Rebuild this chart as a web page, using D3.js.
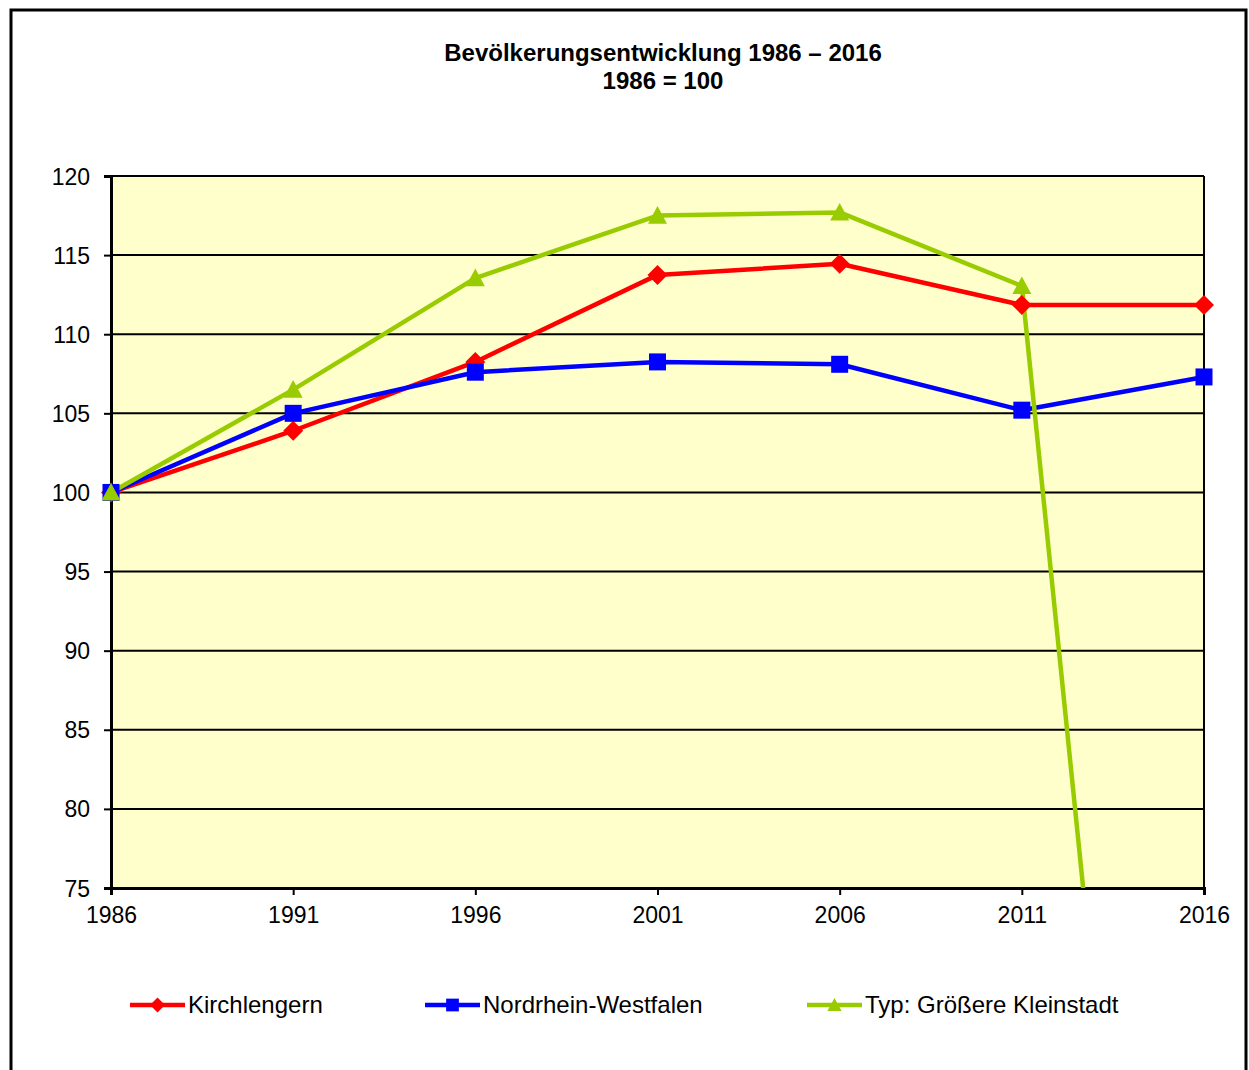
<!DOCTYPE html>
<html>
<head>
<meta charset="utf-8">
<script src="https://cdn.jsdelivr.net/npm/d3@7"></script>
<style>
  body { margin: 0; background: #fff; }
  svg { display: block; font-family: "Liberation Sans", Arial, sans-serif; }
</style>
</head>
<body>
<div id="chart"></div>
<script>
const years = [1986, 1991, 1996, 2001, 2006, 2011, 2016];
const kirchlengern = [100, 103.9, 108.25, 113.75, 114.45, 111.85, 111.85];
const nrw = [100, 105.0, 107.6, 108.25, 108.1, 105.2, 107.3];
const kleinstadt = [100, 106.5, 113.55, 117.5, 117.7, 113.05, 0];
const yTicks = [75, 80, 85, 90, 95, 100, 105, 110, 115, 120];

const series = [
  { name: "Kirchlengern", values: kirchlengern, color: "#ff0000", shape: "diamond", size: 20 },
  { name: "Nordrhein-Westfalen", values: nrw, color: "#0000ff", shape: "square", size: 17 },
  { name: "Typ: Größere Kleinstadt", values: kleinstadt, color: "#99cc00", shape: "triangle", size: 19 }
];

const width = 1249, height = 1070;
const plot = { left: 111, right: 1204, top: 176, bottom: 888 };

const svg = d3.select("#chart").append("svg")
  .attr("width", width)
  .attr("height", height);

// outer frame (bottom edge runs off the picture)
svg.append("path")
  .attr("d", `M11,${height + 5}V10H1246V${height + 5}`)
  .attr("fill", "none")
  .attr("stroke", "#000")
  .attr("stroke-width", 3);

svg.append("text")
  .attr("x", 663).attr("y", 61)
  .attr("text-anchor", "middle")
  .attr("font-weight", "bold")
  .attr("font-size", 24)
  .text("Bevölkerungsentwicklung 1986 – 2016");
svg.append("text")
  .attr("x", 663).attr("y", 89)
  .attr("text-anchor", "middle")
  .attr("font-weight", "bold")
  .attr("font-size", 24)
  .text("1986 = 100");

const x = d3.scaleLinear().domain([1986, 2016]).range([plot.left, plot.right]);
const y = d3.scaleLinear().domain([75, 120]).range([plot.bottom, plot.top]);

svg.append("rect")
  .attr("x", plot.left).attr("y", plot.top)
  .attr("width", plot.right - plot.left)
  .attr("height", plot.bottom - plot.top)
  .attr("fill", "#ffffcc");

// gridlines
svg.append("g")
  .selectAll("line")
  .data(yTicks)
  .join("line")
  .attr("x1", plot.left).attr("x2", plot.right)
  .attr("y1", d => y(d)).attr("y2", d => y(d))
  .attr("stroke", "#000")
  .attr("stroke-width", 2);

svg.append("line")
  .attr("x1", plot.right).attr("x2", plot.right)
  .attr("y1", plot.top).attr("y2", plot.bottom)
  .attr("stroke", "#000").attr("stroke-width", 2);

// axes
const yAxis = svg.append("g")
  .attr("transform", `translate(${plot.left},0)`)
  .call(d3.axisLeft(y).tickValues(yTicks).tickSize(7).tickPadding(14));
const xAxis = svg.append("g")
  .attr("transform", `translate(0,${plot.bottom})`)
  .call(d3.axisBottom(x).tickValues(years).tickFormat(d3.format("d")).tickSize(7).tickPadding(12));

[yAxis, xAxis].forEach(g => {
  g.select(".domain").attr("stroke", "#000").attr("stroke-width", 3);
  g.selectAll(".tick line").attr("stroke", "#000").attr("stroke-width", 2);
  g.selectAll(".tick text")
    .attr("fill", "#000")
    .attr("font-size", 23)
    .attr("font-family", "Liberation Sans, Arial, sans-serif");
});
yAxis.selectAll(".tick text").attr("dy", "0.35em");

svg.append("clipPath").attr("id", "plotClip")
  .append("rect")
  .attr("x", plot.left - 10).attr("y", plot.top)
  .attr("width", plot.right - plot.left + 20)
  .attr("height", plot.bottom - plot.top);

const line = d3.line()
  .x((d, i) => x(years[i]))
  .y(d => y(d));

// Excel style markers: square diamond, square, triangle
const markerPath = (shape, s) => {
  const h = s / 2;
  if (shape === "diamond") return `M0,${-h}L${h},0L0,${h}L${-h},0Z`;
  if (shape === "square") return `M${-h},${-h}H${h}V${h}H${-h}Z`;
  return `M0,${-h}L${h},${h * 0.85}H${-h}Z`;
};

const lines = svg.append("g").attr("clip-path", "url(#plotClip)");
series.forEach(s => {
  lines.append("path")
    .datum(s.values)
    .attr("fill", "none")
    .attr("stroke", s.color)
    .attr("stroke-width", 4.5)
    .attr("stroke-linejoin", "round")
    .attr("d", line);
});

series.forEach(s => {
  svg.append("g")
    .selectAll("path")
    .data(s.values.map((v, i) => ({ v, year: years[i] })).filter(d => d.v >= 75 && d.v <= 120))
    .join("path")
    .attr("transform", d => `translate(${x(d.year)},${y(d.v)})`)
    .attr("d", markerPath(s.shape, s.size))
    .attr("fill", s.color);
});

// legend
const legendX = [130, 425, 807];
const legend = svg.append("g");
series.forEach((s, i) => {
  const g = legend.append("g").attr("transform", `translate(${legendX[i]},1005)`);
  g.append("line")
    .attr("x1", 0).attr("x2", 55)
    .attr("stroke", s.color).attr("stroke-width", 4.5);
  g.append("path")
    .attr("transform", "translate(27.5,0)")
    .attr("d", markerPath(s.shape, s.size * 0.75))
    .attr("fill", s.color);
  g.append("text")
    .attr("x", 58).attr("y", 0).attr("dy", "0.35em")
    .attr("font-size", 24)
    .text(s.name);
});
</script>
</body>
</html>
